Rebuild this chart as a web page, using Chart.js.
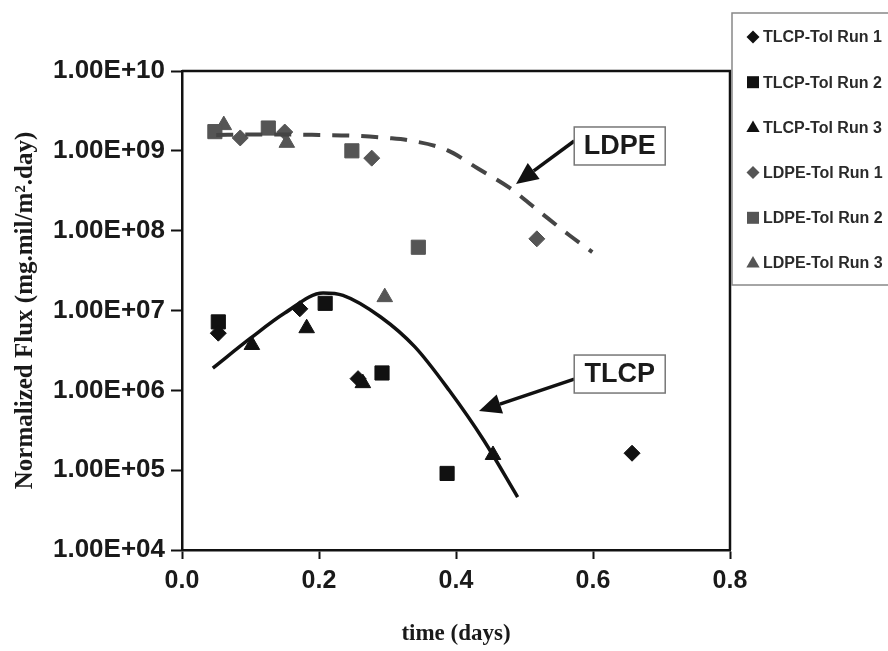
<!DOCTYPE html>
<html><head><meta charset="utf-8">
<script src="https://cdn.jsdelivr.net/npm/chart.js@4/dist/chart.umd.min.js"></script>
<style>html,body{margin:0;padding:0;background:#fff;}#wrap{width:888px;height:651px;position:relative;}</style>
</head><body><div id="wrap"><canvas id="c" width="888" height="651"></canvas></div>
<script>
// ---- data ----
const xTickValues = [0, 0.2, 0.4, 0.6, 0.8];
const xTickLabels = ['0.0', '0.2', '0.4', '0.6', '0.8'];
const yTickValues = [1e4, 1e5, 1e6, 1e7, 1e8, 1e9, 1e10];
const yTickLabels = ['1.00E+04', '1.00E+05', '1.00E+06', '1.00E+07', '1.00E+08', '1.00E+09', '1.00E+10'];

const seriesNames = ['TLCP-Tol Run 1', 'TLCP-Tol Run 2', 'TLCP-Tol Run 3', 'LDPE-Tol Run 1', 'LDPE-Tol Run 2', 'LDPE-Tol Run 3'];

const tlcpRun1X = [0.053, 0.172, 0.257, 0.657];
const tlcpRun1Y = [5.2e6, 1.05e7, 1.4e6, 1.63e5];
const tlcpRun2X = [0.053, 0.209, 0.292, 0.387];
const tlcpRun2Y = [7.2e6, 1.23e7, 1.65e6, 9.1e4];
const tlcpRun3X = [0.102, 0.182, 0.264, 0.454];
const tlcpRun3Y = [3.7e6, 6.0e6, 1.23e6, 1.55e5];
const ldpeRun1X = [0.085, 0.150, 0.277, 0.518];
const ldpeRun1Y = [1.45e9, 1.72e9, 8.1e8, 7.9e7];
const ldpeRun2X = [0.048, 0.126, 0.248, 0.345];
const ldpeRun2Y = [1.74e9, 1.93e9, 1.0e9, 6.2e7];
const ldpeRun3X = [0.061, 0.153, 0.296];
const ldpeRun3Y = [2.1e9, 1.26e9, 1.47e7];

// trend curves
const tlcpFitX = [0.045, 0.10, 0.15, 0.206, 0.235, 0.29, 0.34, 0.39, 0.44, 0.49];
const tlcpFitY = [1.9e6, 4.5e6, 9.3e6, 1.66e7, 1.55e7, 8.3e6, 3.5e6, 1.0e6, 2.4e5, 4.6e4];
const ldpeFitX = [0.05, 0.10, 0.15, 0.20, 0.25, 0.30, 0.33, 0.387, 0.432, 0.479, 0.523, 0.566, 0.599];
const ldpeFitY = [1.58e9, 1.6e9, 1.6e9, 1.58e9, 1.55e9, 1.45e9, 1.36e9, 1.02e9, 6.0e8, 3.4e8, 1.7e8, 8.7e7, 5.4e7];

// annotation labels (anchored in data space)
const noteLabels = ['LDPE', 'TLCP'];
const noteX = [0.639, 0.639];
const noteY = [1.15e9, 1.6e6];
const noteTipX = [0.4876, 0.4336];
const noteTipY = [3.84e8, 5.5e5];

const BLACK = '#111111', GRAY = '#555555';

function pts(xs, ys) { return xs.map((x, i) => ({ x: x, y: ys[i] })); }
function marker(label, xs, ys, style, color, r) {
  return { type: 'scatter', label: label, data: pts(xs, ys), pointStyle: style, pointRadius: r, pointHoverRadius: r,
    backgroundColor: color, borderColor: color, borderWidth: 1, showLine: false, isMarker: true };
}

const datasets = [
  { type: 'line', label: 'fitTLCP', data: pts(tlcpFitX, tlcpFitY), borderColor: BLACK, borderWidth: 3.5,
    pointRadius: 0, fill: false, cubicInterpolationMode: 'monotone' },
  { type: 'line', label: 'fitLDPE', data: pts(ldpeFitX, ldpeFitY), borderColor: '#454545', borderWidth: 4,
    borderDash: [17, 12], pointRadius: 0, fill: false, cubicInterpolationMode: 'monotone' },
  marker(seriesNames[0], tlcpRun1X, tlcpRun1Y, 'rectRot', BLACK, 8),
  marker(seriesNames[1], tlcpRun2X, tlcpRun2Y, 'rect', BLACK, 10),
  marker(seriesNames[2], tlcpRun3X, tlcpRun3Y, 'triangle', BLACK, 9),
  marker(seriesNames[3], ldpeRun1X, ldpeRun1Y, 'rectRot', GRAY, 8),
  marker(seriesNames[4], ldpeRun2X, ldpeRun2Y, 'rect', GRAY, 10),
  marker(seriesNames[5], ldpeRun3X, ldpeRun3Y, 'triangle', GRAY, 9)
];

function drawShape(ctx, st, x, y, r) {
  if (st === 'rect') { ctx.rect(x - r * 0.75, y - r * 0.75, r * 1.5, r * 1.5); }
  else if (st === 'rectRot') { ctx.moveTo(x, y - r); ctx.lineTo(x + r, y); ctx.lineTo(x, y + r); ctx.lineTo(x - r, y); ctx.closePath(); }
  else { ctx.moveTo(x, y - r); ctx.lineTo(x + r * 0.95, y + r * 0.65); ctx.lineTo(x - r * 0.95, y + r * 0.65); ctx.closePath(); }
}

const framePlugin = {
  id: 'frame',
  afterDraw(chart) {
    const ctx = chart.ctx, a = chart.chartArea;
    const xs = chart.scales.x, ys = chart.scales.y;
    ctx.save();
    // top and right frame lines
    ctx.strokeStyle = BLACK; ctx.lineWidth = 2.5;
    ctx.beginPath();
    ctx.moveTo(a.left, a.top); ctx.lineTo(a.right, a.top); ctx.lineTo(a.right, a.bottom);
    ctx.stroke();

    // annotations
    for (let i = 0; i < noteLabels.length; i++) {
      const cx = xs.getPixelForValue(noteX[i]), cy = ys.getPixelForValue(noteY[i]);
      const tx = xs.getPixelForValue(noteTipX[i]), ty = ys.getPixelForValue(noteTipY[i]);
      const w = 91, h = 38;
      const bx = cx - w / 2, by = cy - h / 2;
      const sx = bx, sy = cy + (i === 0 ? -5 : 5);
      const ang = Math.atan2(ty - sy, tx - sx);
      const hl = 22, hw = 10;
      const bxp = tx - Math.cos(ang) * hl, byp = ty - Math.sin(ang) * hl;
      ctx.strokeStyle = BLACK; ctx.lineWidth = 3.5;
      ctx.beginPath(); ctx.moveTo(sx, sy); ctx.lineTo(bxp, byp); ctx.stroke();
      ctx.fillStyle = BLACK;
      ctx.beginPath();
      ctx.moveTo(tx, ty);
      ctx.lineTo(bxp + Math.sin(ang) * hw, byp - Math.cos(ang) * hw);
      ctx.lineTo(bxp - Math.sin(ang) * hw, byp + Math.cos(ang) * hw);
      ctx.closePath(); ctx.fill();
      ctx.fillStyle = '#fff'; ctx.fillRect(bx, by, w, h);
      ctx.strokeStyle = '#777'; ctx.lineWidth = 1.5; ctx.strokeRect(bx, by, w, h);
      ctx.fillStyle = '#1a1a1a';
      ctx.font = 'bold 27px "Liberation Sans", Arial, sans-serif';
      ctx.textAlign = 'center'; ctx.textBaseline = 'middle';
      ctx.fillText(noteLabels[i], cx, cy + 1);
    }

    // legend box
    const lx = 732, ly = 13, lw = 170, lh = 272;
    ctx.fillStyle = '#fff'; ctx.fillRect(lx, ly, lw, lh);
    ctx.strokeStyle = '#888'; ctx.lineWidth = 1.5; ctx.strokeRect(lx, ly, lw, lh);
    const items = chart.data.datasets.filter(d => d.isMarker);
    items.forEach((d, i) => {
      const iy = 37 + i * 45.2;
      const mx = 753;
      const st = d.pointStyle;
      const r = st === 'rect' ? 8 : (st === 'triangle' ? 7 : 6.5);
      ctx.fillStyle = d.backgroundColor;
      ctx.beginPath();
      drawShape(ctx, st, mx, iy, r);
      ctx.fill();
      ctx.fillStyle = '#2a2a2a';
      ctx.font = 'bold 16px "Liberation Sans", Arial, sans-serif';
      ctx.textAlign = 'left'; ctx.textBaseline = 'middle';
      ctx.fillText(d.label, 763, iy + 1);
    });
    ctx.restore();
  }
};

new Chart(document.getElementById('c'), {
  data: { datasets: datasets },
  options: {
    responsive: false, animation: false, events: [],
    layout: { padding: { left: 0, right: 158, top: 71, bottom: 0 } },
    plugins: { legend: { display: false }, tooltip: { enabled: false } },
    scales: {
      x: {
        type: 'linear', min: 0, max: 0.8,
        afterFit(s) { s.height = 101; },
        afterBuildTicks(s) { s.ticks = xTickValues.map(v => ({ value: v })); },
        ticks: { callback: (v) => xTickLabels[xTickValues.indexOf(v)], color: '#1a1a1a', padding: 7,
          font: { family: '"Liberation Sans", Arial, sans-serif', size: 25, weight: 'bold' }, maxRotation: 0 },
        grid: { drawOnChartArea: false, drawTicks: true, tickLength: 9, tickWidth: 2, tickColor: BLACK },
        border: { display: true, color: BLACK, width: 2.5 },
        title: { display: true, text: 'time (days)', color: '#1a1a1a', padding: { top: 0, bottom: 3 },
          font: { family: '"Liberation Serif", "Times New Roman", serif', size: 23, weight: 'bold' } }
      },
      y: {
        type: 'logarithmic', min: 1e4, max: 1e10,
        afterFit(s) { s.width = 182; },
        afterBuildTicks(s) { s.ticks = yTickValues.map(v => ({ value: v })); },
        ticks: { callback: (v) => yTickLabels[yTickValues.indexOf(v)], color: '#1a1a1a', padding: 6,
          font: { family: '"Liberation Sans", Arial, sans-serif', size: 26, weight: 'bold' } },
        grid: { drawOnChartArea: false, drawTicks: true, tickLength: 11, tickWidth: 2, tickColor: BLACK },
        border: { display: true, color: BLACK, width: 2.5 },
        title: { display: true, text: 'Normalized Flux (mg.mil/m\u00B2.day)', color: '#1a1a1a', padding: { top: 11, bottom: 0 },
          font: { family: '"Liberation Serif", "Times New Roman", serif', size: 25, weight: 'bold' } }
      }
    }
  },
  plugins: [framePlugin]
});
</script></body></html>
